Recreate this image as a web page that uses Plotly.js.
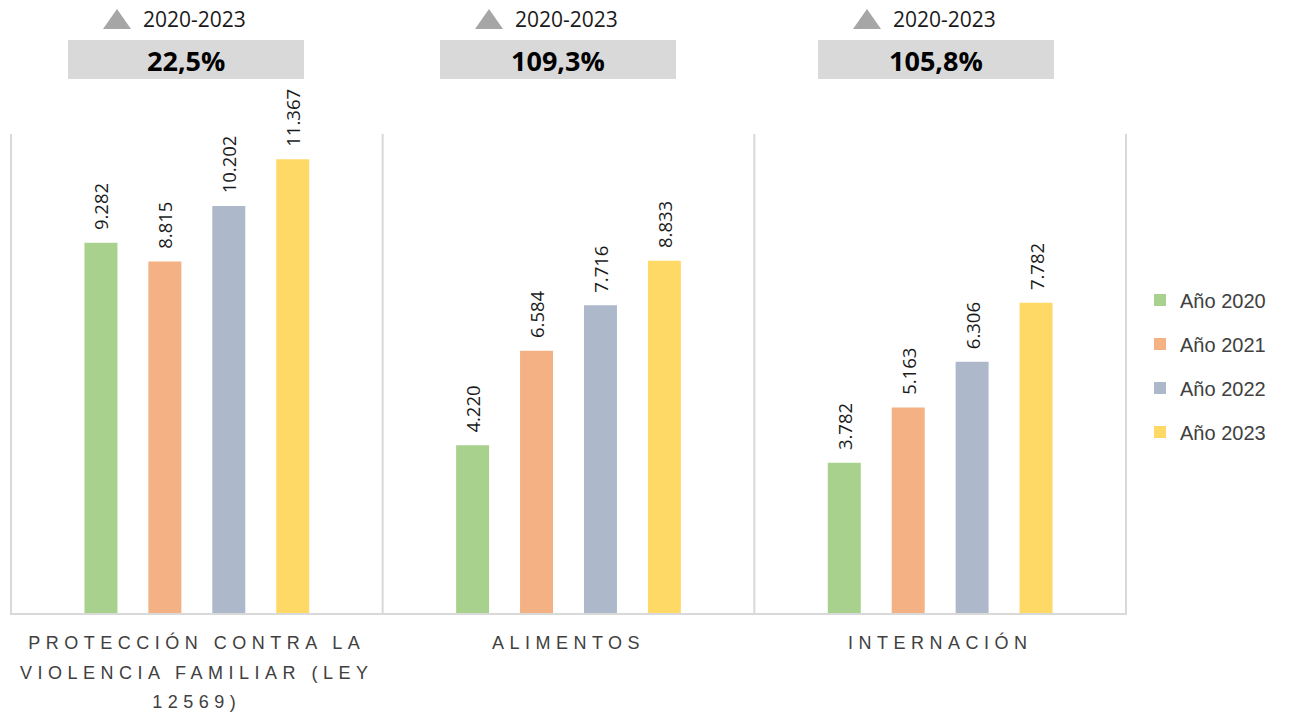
<!DOCTYPE html>
<html>
<head>
<meta charset="utf-8">
<script src="https://cdn.plot.ly/plotly-3.0.1.min.js"></script>
<style>
  html, body { margin: 0; padding: 0; background: #fff; }
  #chart { width: 1298px; height: 715px; }
</style>
</head>
<body>
<div id="chart"></div>
<script>
// categorias y valores por año
const categories = [
  'PROTECCIÓN CONTRA LA<br>VIOLENCIA FAMILIAR (LEY<br>12569)',
  'ALIMENTOS',
  'INTERNACIÓN'
];
const years = ['Año 2020', 'Año 2021', 'Año 2022', 'Año 2023'];
const values2020 = [9282, 4220, 3782];
const values2021 = [8815, 6584, 5163];
const values2022 = [10202, 7716, 6306];
const values2023 = [11367, 8833, 7782];
const growthLabels = ['22,5%', '109,3%', '105,8%'];
const periodLabel = '2020-2023';

const colors = ['#a9d18e', '#f4b183', '#adb9ca', '#ffd966'];
const series = [values2020, values2021, values2022, values2023];

// plot area in page pixels
const L = 10, R = 1127, T = 134, B = 614;
const px = x => (x - L) / (R - L);
const py = y => (B - y) / (B - T);

const traces = series.map((vals, i) => ({
  type: 'bar',
  name: years[i],
  x: categories,
  y: vals,
  marker: {color: colors[i]},
  texttemplate: '\u00a0\u00a0%{y:,.0f}',
  textposition: 'outside',
  textangle: -90,
  constraintext: 'none',
  textfont: {family: 'Open Sans, sans-serif', size: 18.5, color: '#1a1a1a'},
  cliponaxis: false,
  legendgroup: 'g' + i,
  hoverinfo: 'skip'
}));

const gridColor = '#d9d9d9';
const shapes = [];
// frame lines: left, right, bottom, dividers
[-0.5, 0.5, 1.5, 2.5].forEach(xv => {
  shapes.push({type: 'line', xref: 'x', yref: 'paper', x0: xv, x1: xv, y0: 0, y1: 1,
    line: {color: gridColor, width: 2}});
});
shapes.push({type: 'line', xref: 'paper', yref: 'paper', x0: 0, x1: 1, y0: 0, y1: 0,
  line: {color: gridColor, width: 2}});

// grey boxes and triangles above each group
const boxLeft = [68, 440, 818];
const boxW = 236;
const annotations = [];
for (let i = 0; i < 3; i++) {
  const b = boxLeft[i];
  shapes.push({type: 'rect', xref: 'paper', yref: 'paper',
    x0: px(b), x1: px(b + boxW), y0: py(79), y1: py(40),
    fillcolor: '#d9d9d9', line: {width: 0}});
  const c = b + 49;
  shapes.push({type: 'path', xref: 'paper', yref: 'paper',
    path: `M ${px(c - 14)} ${py(29)} L ${px(c + 14)} ${py(29)} L ${px(c)} ${py(9)} Z`,
    fillcolor: '#a6a6a6', line: {width: 0}});
  annotations.push({xref: 'paper', yref: 'paper', x: px(b + 73), y: py(19),
    xanchor: 'left', yanchor: 'middle', showarrow: false, text: periodLabel,
    font: {family: 'Open Sans, sans-serif', size: 21, color: '#1a1a1a'}});
  annotations.push({xref: 'paper', yref: 'paper', x: px(b + boxW / 2), y: py(60),
    xanchor: 'center', yanchor: 'middle', showarrow: false, text: '<b>' + growthLabels[i] + '</b>',
    font: {family: 'Open Sans, sans-serif', size: 27, color: '#000'}});
}

const layout = {
  width: 1298,
  height: 715,
  margin: {l: L, r: 1298 - R, t: T, b: 715 - B, pad: 0},
  paper_bgcolor: '#fff',
  plot_bgcolor: '#fff',
  separators: ',.',
  barmode: 'group',
  bargap: 0.312,
  bargroupgap: 0.484,
  showlegend: true,
  legend: {
    x: px(1140), y: py(366), xanchor: 'left', yanchor: 'middle',
    font: {family: 'Liberation Sans, Arial, sans-serif', size: 20, color: '#404040'},
    tracegroupgap: 15,
    traceorder: 'grouped'
  },
  xaxis: {
    type: 'category',
    showgrid: false,
    zeroline: false,
    showline: false,
    ticks: '',
    ticklabelstandoff: 16,
    tickfont: {family: 'Liberation Sans, Arial, sans-serif', size: 18, color: '#404040'}
  },
  yaxis: {
    range: [0, 12000],
    showgrid: false,
    zeroline: false,
    showline: false,
    showticklabels: false,
    ticks: ''
  },
  shapes: shapes,
  annotations: annotations
};

Plotly.newPlot('chart', traces, layout, {displayModeBar: false, staticPlot: true}).then(gd => {
  // spaced capitals and wider line gap, as in the source chart
  gd.querySelectorAll('.xtick text').forEach(t => {
    t.style.letterSpacing = '5.5px';
    t.querySelectorAll('tspan.line').forEach(s => {
      const dy = parseFloat(s.getAttribute('dy'));
      if (dy) s.setAttribute('dy', (dy * 1.65 / 1.3) + 'em');
    });
  });
});
</script>
</body>
</html>
